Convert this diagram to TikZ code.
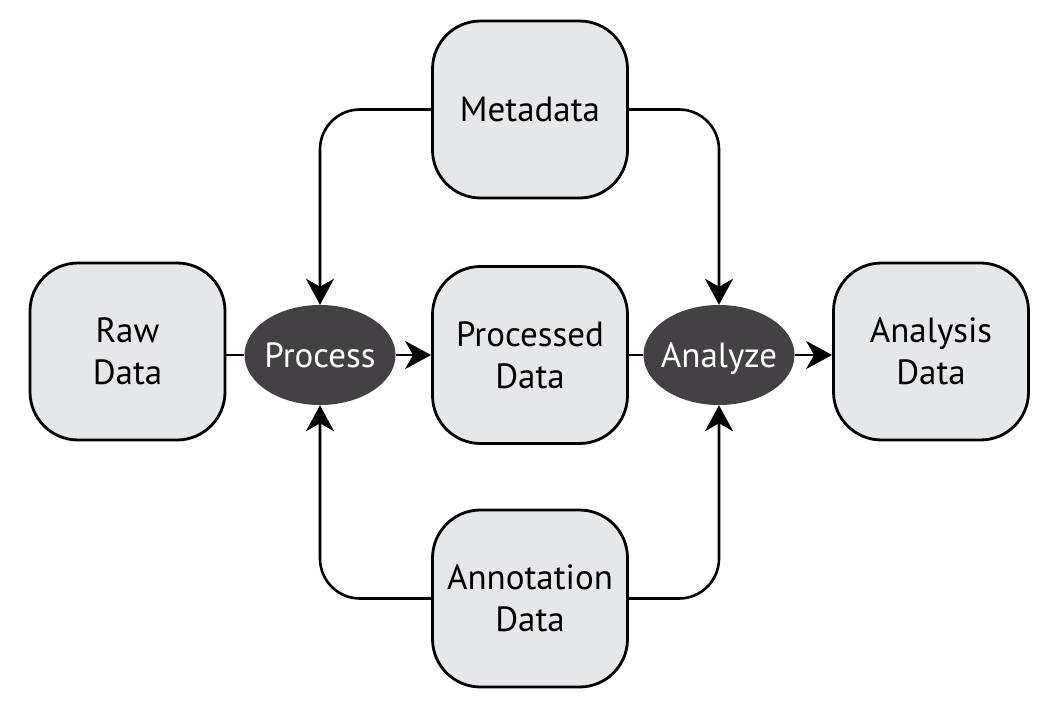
\documentclass[tikz,border=0pt]{standalone}
\usepackage{fontspec}
\setmainfont{PT Sans}
\usetikzlibrary{arrows.meta,shapes.geometric}
\definecolor{boxgray}{HTML}{E6E7E8}
\definecolor{stepgray}{HTML}{434143}
\begin{document}
\begin{tikzpicture}[x=1pt,y=1pt,
    databox/.style={draw, line width=2.8pt, fill=boxgray, rounded corners=48pt,
        minimum width=195pt, minimum height=177pt, align=center,
        font=\fontsize{35}{42}\selectfont},
    stepnode/.style={ellipse, fill=stepgray, text=white, inner ysep=0pt,
        inner xsep=-6pt, text height=24.5pt, text depth=0pt,
        minimum width=151pt, minimum height=100pt,
        font=\fontsize{35}{42}\selectfont},
    flow/.style={line width=2.6pt, -{Stealth[length=26pt,width=28pt,inset=8pt]}},
    link/.style={line width=2.6pt, rounded corners=40pt}]
    \pgfmathsetmacro\midrow{355};

    \useasboundingbox (0,0) rectangle (1059,710);

    % data boxes
    \node[databox] (raw) at (127.5, 358.5) {Raw\\Data};
    \node[databox] (meta) at (530, 600.5) {Metadata};
    \node[databox] (procd) at (530, \midrow) {Processed\\Data};
    \node[databox] (annot) at (530, 111.5) {Annotation\\Data};
    \node[databox] (anly) at (931, 358.5) {Analysis\\Data};

    % steps
    \node[stepnode] (proc) at (320, \midrow) {Process};
    \node[stepnode] (analyze) at (719, \midrow) {Analyze};

    % main row
    \draw[link] (raw.east |- proc.west) -- (proc.west);
    \draw[flow] (proc.east) -- (procd.west |- proc.east);
    \draw[link] (procd.east) -- (analyze.west);
    \draw[flow] (analyze.east) -- (anly.west |- analyze.east);

    % side inputs
    \foreach \src/\side in {meta/north, annot/south} {
        \draw[link, flow] (\src.west) -| (proc.\side);
        \draw[link, flow] (\src.east) -| (analyze.\side);
    }
\end{tikzpicture}
\end{document}
